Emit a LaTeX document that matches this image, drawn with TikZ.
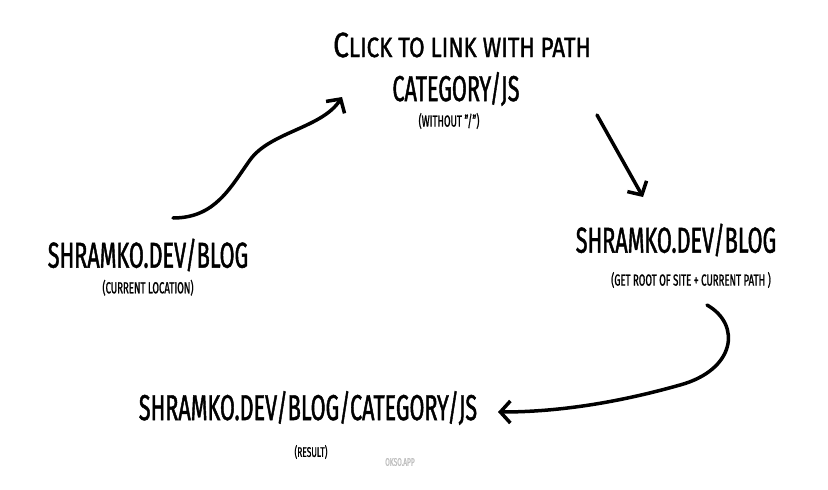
\documentclass[tikz,border=0pt]{standalone}
\usepackage{fontspec}
\setmainfont{Fira Sans}[FakeStretch=0.6,FakeBold=1.2]
\newfontfamily\widefont{Fira Sans}[FakeStretch=0.8,FakeBold=1.2]
\usetikzlibrary{positioning,arrows.meta}
\tikzset{
  big/.style={inner sep=0pt, font=\fontsize{36}{36}\selectfont},
  mid/.style={inner sep=0pt, font=\widefont\fontsize{28}{28}\selectfont},
  note/.style={inner sep=0pt, font=\fontsize{16}{16}\selectfont},
  wave/.style={line width=3.5pt, line cap=round,
    -{Straight Barb[length=10pt,width=22pt,line width=3.5pt]}}
}

\begin{document}
\begin{tikzpicture}[x=1pt,y=-1pt]
\useasboundingbox (0,0) rectangle (828,490);

% top
\node (clicktitle) [mid] at (462,45) {{\fontsize{35}{35}\selectfont C}LICK TO LINK WITH PATH};
\node (pathtitle) [big] at (456,89) {CATEGORY/JS};
\node (noslash) [note] at (449,121) {(WITHOUT "/")};

% left
\node (leftblog) [big] at (148,255) {SHRAMKO.DEV/BLOG};
\node (curloc) [note,below=8pt of leftblog] {(CURRENT LOCATION)};

% right
\node (rightblog) [big] at (676,240) {SHRAMKO.DEV/BLOG};
\node (getroot) [note] at (691,280) {(GET ROOT OF SITE + CURRENT PATH )};

% bottom
\node (fullblog) [big] at (308,408) {SHRAMKO.DEV/BLOG/CATEGORY/JS};
\node (result) [note,font=\fontsize{14}{14}\selectfont] at (311,452) {(RESULT)};
\node (okso) [note,font=\fontsize{11}{11}\selectfont,text=black!25] at (400,462) {OKSO.APP};

\coordinate (a1) at (173,218);
\coordinate (a1end) at (342,97);
\coordinate (a2) at (597,115);
\coordinate (a2end) at (643,197);
\coordinate (a3) at (707,305);
\coordinate (a3end) at (498,412);

\draw[wave] (a1) .. controls (215,218) and (230,188) .. (250,160)
  .. controls (270,132) and (322,128) .. (a1end);
\draw[wave] (a2) -- (a2end);
\draw[wave] (a3) .. controls (742,325) and (735,370) .. (680,385)
  .. controls (620,402) and (560,412) .. (a3end);
\end{tikzpicture}
\end{document}
